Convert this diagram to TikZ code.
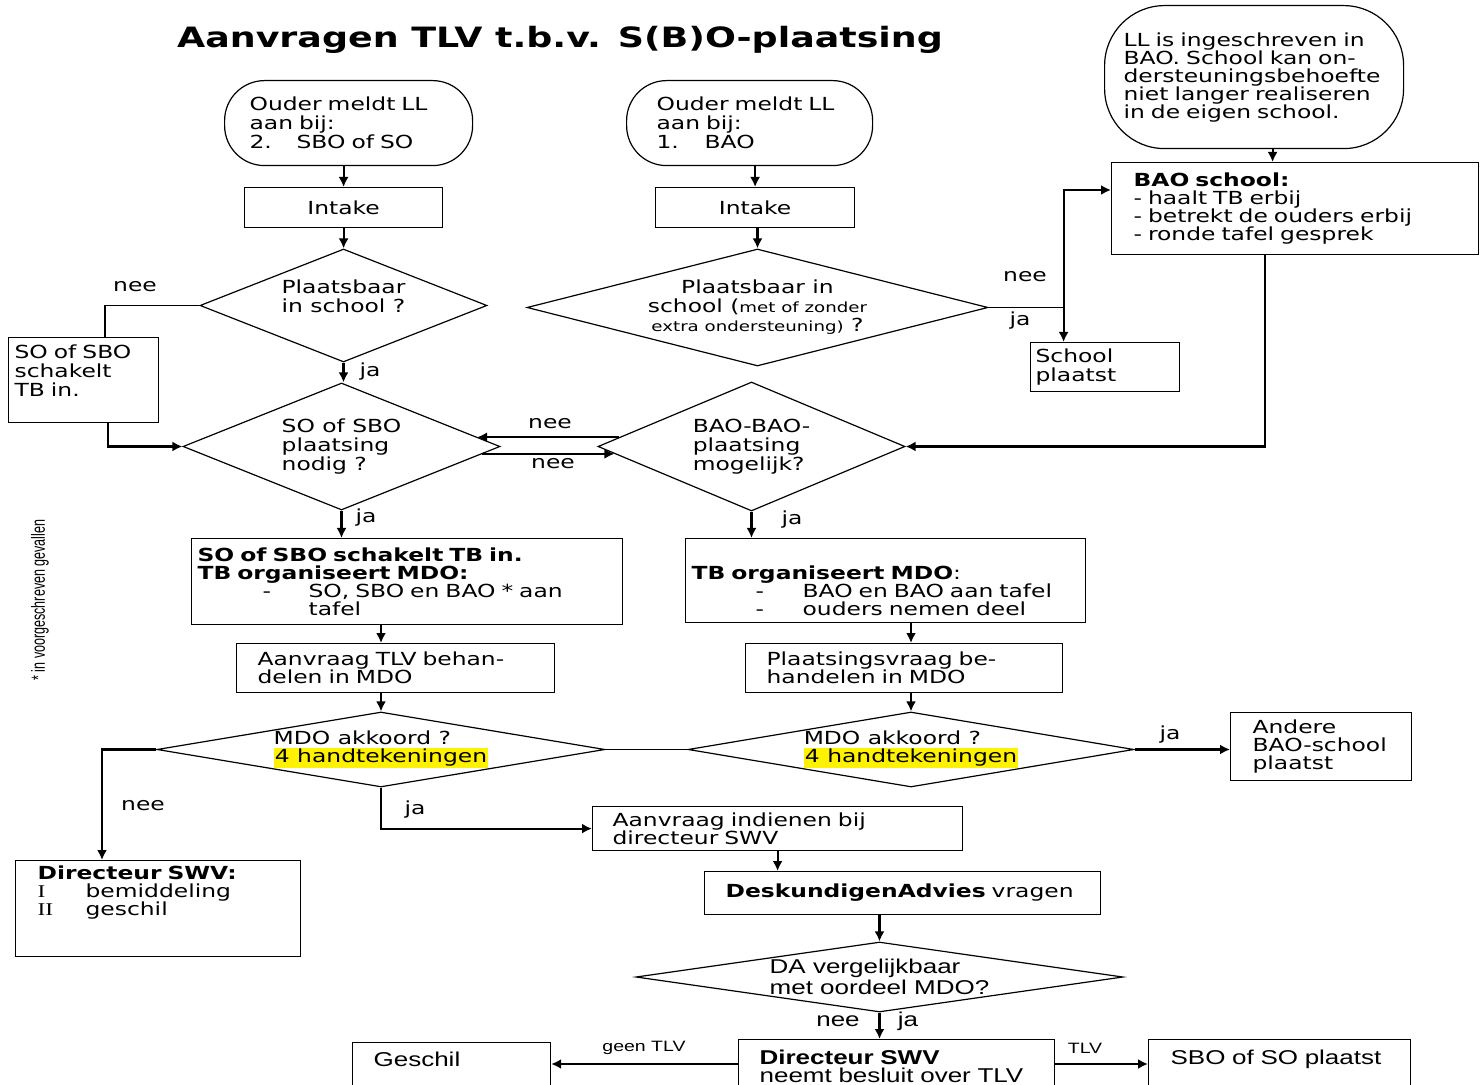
\documentclass[tikz,border=0pt]{standalone}
\usepackage{fontspec}
\setmainfont{DejaVu Sans}[FakeStretch=1.3]
\newfontfamily\narrowfont{Liberation Sans}[FakeStretch=1.3]
\newfontfamily\notefont{Liberation Sans}[FakeStretch=0.66]
\newfontfamily\romanfont{Liberation Serif}[FakeStretch=1.3]
\usetikzlibrary{shapes.geometric, arrows.meta, positioning, calc}
\newcommand{\fctext}{\fontsize{9}{9.5}\selectfont}
\newcommand{\fcsmall}{\fontsize{7}{9.5}\selectfont}
\newcommand{\fcnarrow}{\narrowfont\fontsize{10}{9}\selectfont}
\newcommand{\fcmark}[1]{{\setlength{\fboxsep}{0.6pt}\colorbox{yellow}{#1}}}

\begin{document}
\begin{tikzpicture}[
    x=0.5pt, y=-0.5pt,
    proc/.style={rectangle, draw, line width=0.6pt, inner sep=0pt, font=\fctext},
    tproc/.style={proc, anchor=north west, align=left},
    term/.style={rectangle, draw, line width=0.6pt, rounded corners=#1, anchor=north west, align=left, inner sep=0pt, font=\fctext},
    choice/.style={diamond, draw, line width=0.6pt, inner sep=0pt, align=left, font=\fctext},
    flow/.style={-{Latex[length=5pt, width=5pt]}, line width=1.1pt},
    link/.style={line width=0.6pt},
    lbl/.style={inner sep=0pt, font=\fctext}
]
\clip (0,0) rectangle (1484,1085);

% Titel
\node[inner sep=0pt, font=\fontsize{14}{16}\selectfont\bfseries] (titel) at (560,40) {Aanvragen TLV t.b.v. S(B)O-plaatsing};

% Aanmelding SBO/SO
\node[term=20pt, minimum width=124pt, minimum height=42.5pt, text width=99pt, inner xsep=12.5pt] (meldSO) at (224,80) {Ouder meldt LL\\aan bij:\\\makebox[23.5pt][l]{2.}SBO of SO};
\node[proc, anchor=north west, minimum width=99pt, minimum height=20pt] (intakeSO) at (244,187) {Intake};
\node[choice, align=center, aspect=2.54, minimum width=143.5pt, minimum height=56.5pt] (plaatsSO) at (343.5,305.5) {Plaatsbaar\\in school ?\\\mbox{}};
\node[tproc, minimum width=75pt, minimum height=42.5pt, text width=69pt, inner xsep=3pt] (tbSO) at (8,337) {SO of SBO\\schakelt\\TB in.\\\mbox{}};
\node[choice, aspect=2.5, minimum width=158.5pt, minimum height=63.5pt] (nodigSO) at (341.5,446.5) {SO of SBO\\plaatsing\\nodig ?};
\node[tproc, minimum width=215.5pt, minimum height=43pt, text width=209.5pt, inner xsep=3pt, font=\fontsize{9}{9}\selectfont] (mdoSO) at (191,538) {\textbf{SO of SBO schakelt TB in.}\\\textbf{TB organiseert MDO:}\\\makebox[55.5pt][l]{\hspace*{32.5pt}-}SO, SBO en BAO * aan\\\hspace*{55.5pt}tafel};
\node[tproc, minimum width=159pt, minimum height=24.5pt, text width=138pt, inner xsep=10.5pt, font=\fontsize{9}{9}\selectfont] (aanvraagSO) at (236,643) {Aanvraag TLV behan-\\delen in MDO};
\node[choice, aspect=5.97, minimum width=224pt, minimum height=37.5pt, font=\fontsize{9}{9}\selectfont] (akkoordSO) at (381,749.5) {MDO akkoord ?\\\fcmark{4 handtekeningen}};
\node[tproc, minimum width=142.5pt, minimum height=48pt, text width=120.5pt, inner xsep=11pt, font=\fontsize{9}{9}\selectfont] (dirSWV) at (15,860) {\textbf{Directeur SWV:}\\\makebox[24pt][l]{\romanfont I}bemiddeling\\\makebox[24pt][l]{\romanfont II}geschil\\\mbox{}\\\mbox{}};

% Aanmelding BAO
\node[term=20pt, minimum width=123pt, minimum height=42.5pt, text width=93pt, inner xsep=15pt] (meldBAO) at (626,80) {Ouder meldt LL\\aan bij:\\\makebox[24pt][l]{1.}BAO};
\node[proc, anchor=north west, minimum width=99.5pt, minimum height=20pt] (intakeBAO) at (655,187) {Intake};
\node[choice, align=center, aspect=3.94, minimum width=230.5pt, minimum height=58.5pt] (plaatsBAO) at (757.5,307.5) {Plaatsbaar in\\school ({\fcsmall met of zonder}\\{\fcsmall extra ondersteuning)} ?};
\node[tproc, minimum width=74.5pt, minimum height=24.5pt, text width=69.5pt, inner xsep=2.5pt] (schoolBAO) at (1030,342) {School\\plaatst};
\node[term=30pt, minimum width=149.5pt, minimum height=71.5pt, text width=130.5pt, inner xsep=9.5pt, font=\fontsize{9}{9}\selectfont] (meldLL) at (1104,5) {LL is ingeschreven in\\BAO. School kan on-\\dersteuningsbehoefte\\niet langer realiseren\\in de eigen school.};
\node[tproc, minimum width=183.5pt, minimum height=46pt, text width=161.5pt, inner xsep=11pt, font=\fontsize{9}{9}\selectfont] (baoschool) at (1111,162) {\textbf{BAO school:}\\- haalt TB erbij\\- betrekt de ouders erbij\\- ronde tafel gesprek};
\node[choice, aspect=2.38, minimum width=153.5pt, minimum height=64.5pt] (baobao) at (751.5,446.5) {BAO-BAO-\\plaatsing\\mogelijk?};
\node[tproc, minimum width=200pt, minimum height=42pt, text width=194pt, inner xsep=3pt, font=\fontsize{9}{9}\selectfont] (mdoBAO) at (685,538) {\mbox{}\\[8pt]\textbf{TB organiseert MDO}:\\\makebox[55.5pt][l]{\hspace*{32pt}-}BAO en BAO aan tafel\\\makebox[55.5pt][l]{\hspace*{32pt}-}ouders nemen deel};
\node[tproc, minimum width=158.5pt, minimum height=24.5pt, text width=137.5pt, inner xsep=10.5pt, font=\fontsize{9}{9}\selectfont] (vraagBAO) at (745,643) {Plaatsingsvraag be-\\handelen in MDO};
\node[choice, aspect=5.95, minimum width=223pt, minimum height=37.5pt, font=\fontsize{9}{9}\selectfont] (akkoordBAO) at (911,749.5) {MDO akkoord ?\\\fcmark{4 handtekeningen}};
\node[tproc, minimum width=90.5pt, minimum height=34pt, text width=68.5pt, inner xsep=11pt, font=\fontsize{9}{9}\selectfont] (andere) at (1230,712) {Andere\\BAO-school\\plaatst};

% Aanvraag bij SWV
\node[tproc, minimum width=185pt, minimum height=22pt, text width=165pt, inner xsep=10pt, font=\fontsize{9}{9}\selectfont] (indienen) at (592,806) {Aanvraag indienen bij\\directeur SWV};
\node[tproc, minimum width=198pt, minimum height=21.5pt, text width=177pt, inner xsep=10.5pt] (deskundig) at (704,871) {\textbf{DeskundigenAdvies} vragen};
\node[choice, aspect=6.96, minimum width=243.5pt, minimum height=35pt, font=\fcnarrow] (davgl) at (879.5,977) {DA vergelijkbaar\\met oordeel MDO?};
\node[tproc, minimum width=158pt, minimum height=26.5pt, text width=137pt, inner xsep=10.5pt, font=\fcnarrow] (besluit) at (738,1039) {\textbf{Directeur SWV}\\neemt besluit over TLV};
\node[tproc, minimum width=99pt, minimum height=26pt, text width=78pt, inner xsep=10.5pt, font=\fcnarrow] (geschil) at (352,1042) {Geschil\\\mbox{}};
\node[tproc, minimum width=131pt, minimum height=26.5pt, text width=109pt, inner xsep=11pt, font=\fcnarrow] (plaatst) at (1148,1039) {SBO of SO plaatst\\\mbox{}};

% Voetnoot
\node[rotate=90, inner sep=0pt, font=\notefont\fontsize{9.5}{9.5}\selectfont] (voetnoot) at (40,600) {* in voorgeschreven gevallen};

% Labels
\node[lbl] (nee1) at (135,287) {nee};
\node[lbl] (ja1) at (370,372) {ja};
\node[lbl] (nee2) at (1025,277) {nee};
\node[lbl] (ja2) at (1020,321) {ja};
\node[lbl] (nee3) at (550,424) {nee};
\node[lbl] (nee4) at (553,464) {nee};
\node[lbl] (ja3) at (366,518) {ja};
\node[lbl] (ja4) at (792,520) {ja};
\node[lbl] (nee5) at (143,806) {nee};
\node[lbl] (ja5) at (415,810) {ja};
\node[lbl] (ja6) at (1170,735) {ja};
\node[lbl, font=\fcnarrow] (nee6) at (838,1021) {nee};
\node[lbl, font=\fcnarrow] (ja7) at (908,1021) {ja};
\node[lbl, font=\narrowfont\fontsize{7.5}{8}\selectfont] (geenTLV) at (644,1048) {geen TLV};
\node[lbl, font=\narrowfont\fontsize{7.5}{8}\selectfont] (welTLV) at (1085,1048) {TLV};

% Verbindingen
\draw[flow] (intakeSO.north |- meldSO.south) -- (intakeSO.north);
\draw[flow] (intakeSO.south) -- (intakeSO.south |- plaatsSO.north);
\draw[link] (plaatsSO.west) -| ($(tbSO.north west)+(97,0)$);
\draw[flow] ($(tbSO.south west)+(100,0)$) |- (nodigSO.west);
\draw[flow] (plaatsSO.south) -- (plaatsSO.south |- nodigSO.north);
\draw[flow] (baobao.176) -- (baobao.176 -| nodigSO.4);
\draw[flow] (nodigSO.-3.5) -- (nodigSO.-3.5 -| baobao.183.5);
\draw[flow] (nodigSO.south) -- (nodigSO.south |- mdoSO.north);
\draw[flow] (akkoordSO.north |- mdoSO.south) -- (akkoordSO.north |- aanvraagSO.north);
\draw[flow] (akkoordSO.north |- aanvraagSO.south) -- (akkoordSO.north);
\draw[link] (akkoordSO.east) -- (akkoordBAO.west);
\draw[flow] (akkoordSO.west) -| ($(dirSWV.north west)+(87,0)$);
\draw[flow] (akkoordSO.south) |- (indienen.west);

\draw[flow] (intakeBAO.north |- meldBAO.south) -- (intakeBAO.north);
\draw[flow] (plaatsBAO.north |- intakeBAO.south) -- (plaatsBAO.north);
\draw[link] (plaatsBAO.east) -- ++(75,0) coordinate (splitBAO);
\draw[flow] (splitBAO) |- ($(baoschool.north west)+(0,28)$);
\draw[flow] (splitBAO) -- (splitBAO |- schoolBAO.north);
\coordinate (uitLL) at ($(meldLL.south)+(18.5,0)$);
\draw[flow] (uitLL) -- (uitLL |- baoschool.north);
\coordinate (uitBAO) at ($(baoschool.south west)+(154,0)$);
\draw[flow] (uitBAO) |- (baobao.east);
\draw[flow] (baobao.south) -- (baobao.south |- mdoBAO.north);
\draw[flow] (akkoordBAO.north |- mdoBAO.south) -- (akkoordBAO.north |- vraagBAO.north);
\draw[flow] (akkoordBAO.north |- vraagBAO.south) -- (akkoordBAO.north);
\draw[flow] (akkoordBAO.east) -- (akkoordBAO.east -| andere.west);

\draw[flow] (indienen.south) -- (indienen.south |- deskundig.north);
\draw[flow] (davgl.north |- deskundig.south) -- (davgl.north);
\draw[flow] (davgl.south) -- (davgl.south |- besluit.north);
\coordinate (besluitY) at ($(besluit.north west)+(0,25)$);
\draw[flow] (besluitY) -- (besluitY -| geschil.east);
\draw[flow] (besluitY -| besluit.east) -- (besluitY -| plaatst.west);

\end{tikzpicture}
\end{document}
